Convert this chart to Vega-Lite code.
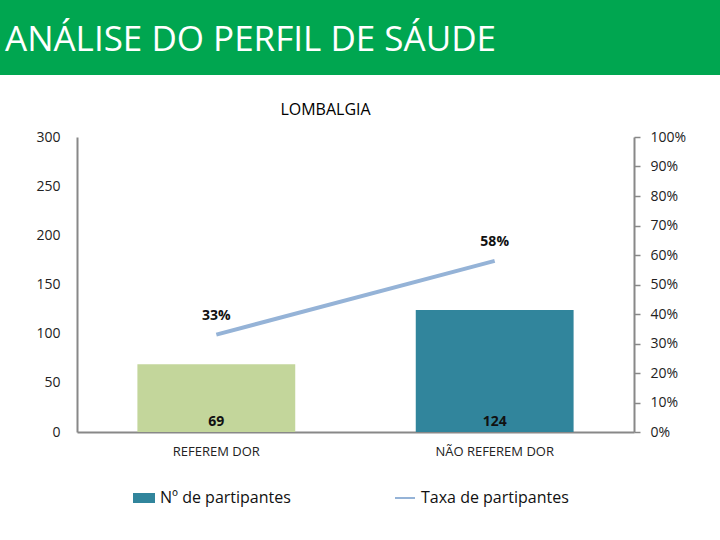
{
  "$schema": "https://vega.github.io/schema/vega-lite/v6.json",
  "padding": {"left": 0, "top": 0, "right": 0, "bottom": 30},
  "background": "white",
  "spacing": 27,
  "config": {
    "font": "Open Sans",
    "view": {"stroke": null},
    "axis": {"grid": false, "labelFont": "Open Sans", "titleFont": "Open Sans"},
    "legend": {"labelFont": "Open Sans"},
    "title": {"font": "Open Sans"}
  },
  "vconcat": [
    {
      "width": 643,
      "height": 75,
      "data": {"values": [{"cabecalho": "ANÁLISE DO PERFIL DE SÁUDE"}]},
      "layer": [
        {
          "mark": {"type": "rect", "color": "#00a650", "clip": false},
          "encoding": {
            "x": {"datum": 0, "type": "quantitative", "scale": {"domain": [0, 1], "range": [-77, 643]}, "axis": null},
            "x2": {"datum": 1},
            "y": {"datum": 0, "type": "quantitative", "scale": {"domain": [0, 1]}, "axis": null},
            "y2": {"datum": 1}
          }
        },
        {
          "mark": {"type": "text", "align": "left", "baseline": "middle", "color": "white", "fontSize": 35, "dx": 5, "dy": 2},
          "encoding": {
            "x": {"datum": 0, "type": "quantitative"},
            "y": {"datum": 0.5, "type": "quantitative"},
            "text": {"field": "cabecalho"}
          }
        }
      ]
    },
    {
      "width": 557,
      "height": 295,
      "title": {"text": "LOMBALGIA", "fontSize": 16, "fontWeight": "normal", "dx": -30, "offset": 12, "color": "#000"},
      "data": {"values": [
        {"categoria": "REFEREM DOR", "participantes": 69, "taxa": 0.33, "serie": "Taxa de partipantes"},
        {"categoria": "NÃO REFEREM DOR", "participantes": 124, "taxa": 0.58, "serie": "Taxa de partipantes"}
      ]},
      "encoding": {
        "x": {
          "field": "categoria", "type": "nominal", "sort": null,
          "scale": {"paddingInner": 0.433, "paddingOuter": 0.217},
          "axis": {"title": null, "labelAngle": 0, "ticks": false, "domainColor": "#888", "domainWidth": 2, "labelPadding": 13, "labelFontSize": 13, "labelColor": "#222"}
        }
      },
      "layer": [
        {
          "layer": [
            {
              "mark": {"type": "bar"},
              "encoding": {
                "y": {
                  "field": "participantes", "type": "quantitative",
                  "scale": {"domain": [0, 300]},
                  "axis": {"title": null, "values": [0, 50, 100, 150, 200, 250, 300], "ticks": false, "tickSize": 0, "labelPadding": 17, "domainColor": "#888", "domainWidth": 2, "labelFontSize": 14, "labelColor": "#222", "minExtent": 77}
                },
                "color": {
                  "field": "categoria", "type": "nominal",
                  "scale": {"domain": ["REFEREM DOR", "NÃO REFEREM DOR", "Taxa de partipantes"], "range": ["#c3d69b", "#31859c", "#95b3d7"]},
                  "legend": {
                    "values": ["NÃO REFEREM DOR", "Taxa de partipantes"],
                    "labelExpr": "datum.label == 'NÃO REFEREM DOR' ? 'Nº de partipantes' : datum.label",
                    "orient": "none", "legendX": 56, "legendY": 487, "direction": "horizontal", "title": null,
                    "columnPadding": 100, "symbolSize": 400, "labelFontSize": 16, "labelColor": "#111", "labelOffset": 5, "labelLimit": 300,
                    "encode": {"symbols": {"update": {
                      "shape": {"signal": "datum.value === 'Taxa de partipantes' ? 'M-1,0H1' : 'M-1,-0.4H1V0.4H-1Z'"},
                      "fill": {"signal": "datum.value === 'Taxa de partipantes' ? 'transparent' : '#31859c'"},
                      "stroke": {"signal": "datum.value === 'Taxa de partipantes' ? '#a6b8cc' : 'transparent'"},
                      "strokeWidth": {"value": 2},
                      "opacity": {"value": 1}
                    }}}
                  }
                }
              }
            },
            {
              "mark": {"type": "text", "baseline": "bottom", "dy": -3, "fontWeight": "bold", "fontSize": 14, "color": "#111"},
              "encoding": {
                "y": {"datum": 0, "type": "quantitative"},
                "text": {"field": "participantes", "type": "quantitative"}
              }
            }
          ]
        },
        {
          "layer": [
            {
              "mark": {"type": "line", "strokeWidth": 4},
              "encoding": {
                "y": {
                  "field": "taxa", "type": "quantitative",
                  "scale": {"domain": [0, 1]},
                  "axis": {"orient": "right", "title": null, "values": [0, 0.1, 0.2, 0.3, 0.4, 0.5, 0.6, 0.7, 0.8, 0.9, 1], "format": ".0%", "labelOverlap": false, "tickSize": 6, "tickColor": "#888", "tickWidth": 1.5, "domainColor": "#888", "domainWidth": 2, "labelPadding": 10, "labelFontSize": 14, "labelColor": "#222"}
                },
                "color": {
                  "field": "serie", "type": "nominal",
                  "legend": {
                    "values": ["NÃO REFEREM DOR", "Taxa de partipantes"],
                    "labelExpr": "datum.label == 'NÃO REFEREM DOR' ? 'Nº de partipantes' : datum.label",
                    "orient": "none", "legendX": 56, "legendY": 487, "direction": "horizontal", "title": null,
                    "columnPadding": 100, "symbolSize": 400, "labelFontSize": 16, "labelColor": "#111", "labelOffset": 5, "labelLimit": 300,
                    "encode": {"symbols": {"update": {
                      "shape": {"signal": "datum.value === 'Taxa de partipantes' ? 'M-1,0H1' : 'M-1,-0.4H1V0.4H-1Z'"},
                      "fill": {"signal": "datum.value === 'Taxa de partipantes' ? 'transparent' : '#31859c'"},
                      "stroke": {"signal": "datum.value === 'Taxa de partipantes' ? '#a6b8cc' : 'transparent'"},
                      "strokeWidth": {"value": 2},
                      "opacity": {"value": 1}
                    }}}
                  }
                }
              }
            },
            {
              "mark": {"type": "text", "dy": -19, "fontWeight": "bold", "fontSize": 14, "color": "#111"},
              "encoding": {
                "y": {
                  "field": "taxa", "type": "quantitative",
                  "axis": {"orient": "right", "title": null, "values": [0, 0.1, 0.2, 0.3, 0.4, 0.5, 0.6, 0.7, 0.8, 0.9, 1], "format": ".0%", "labelOverlap": false, "tickSize": 6, "tickColor": "#888", "tickWidth": 1.5, "domainColor": "#888", "domainWidth": 2, "labelPadding": 10, "labelFontSize": 14, "labelColor": "#222"}
                },
                "text": {"field": "taxa", "type": "quantitative", "format": ".0%"}
              }
            }
          ]
        }
      ],
      "resolve": {"scale": {"y": "independent"}}
    }
  ]
}
